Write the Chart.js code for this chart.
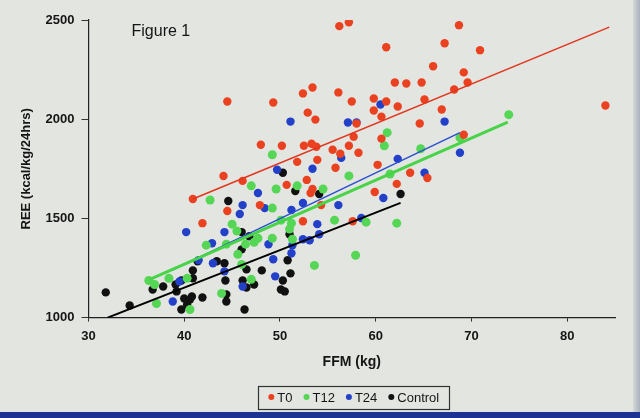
<!DOCTYPE html>
<html><head><meta charset="utf-8">
<script src="https://cdn.jsdelivr.net/npm/chart.js@4.4.1/dist/chart.umd.min.js"></script>
<style>
html,body{margin:0;padding:0;background:#e3e5e1;overflow:hidden}
#wrap{position:relative;width:640px;height:418px}
#bez{position:absolute;left:0;bottom:0;width:640px;height:6px;background:#1d3392}
#edge{position:absolute;right:0;top:0;width:7px;height:418px;background:linear-gradient(to right,#d4d8d8,#a9b2bd)}
canvas{position:absolute;left:0;top:0}
</style></head><body>
<div id="wrap"><canvas id="c" width="640" height="418"></canvas><div id="edge"></div><div id="bez"></div></div>
<script>
// ---- data ----
const seriesNames = ['T0', 'T12', 'T24', 'Control'];

const t0X = [40.9,41.9,44.5,44.1,46.1,44.5,48.0,47.9,49.3,50.2,50.7,51.8,52.4,53.4,52.9,53.7,52.5,53.3,53.8,52.8,53.4,53.2,52.4,53.9,54.3,55.8,55.5,56.1,56.2,57.2,57.5,57.7,57.2,58.2,58.0,57.6,59.8,61.1,59.8,60.6,60.6,60.2,59.9,61.1,62.0,63.2,64.8,62.3,65.1,64.6,62.2,63.6,65.4,66.0,66.9,67.2,68.7,70.9,69.2,69.6,68.2,69.2,84.0,56.3];
const t0Y = [1598,1476,2089,1714,1689,1537,1871,1567,2084,1866,1669,1785,2130,2160,2033,1998,1866,1876,1861,1694,1648,1628,1486,1795,1567,1755,1846,2135,2469,2489,2089,1912,1866,1831,1978,1486,2104,2089,2044,2013,1902,1770,1633,2363,2185,2180,2185,2064,2099,1978,1674,1730,1704,2267,2049,2383,2474,2348,2236,2185,2150,1922,2069,1826];

const t12X = [36.3,36.9,37.1,38.4,40.3,40.6,42.3,42.7,43.9,44.4,45.0,45.5,45.6,46.0,46.4,47.0,47.0,47.3,47.7,49.2,49.6,49.2,49.2,50.1,51.2,51.3,51.8,53.6,54.5,55.7,57.2,57.9,59.0,61.2,60.9,61.5,62.2,64.7,68.8,73.9,51.0];
const t12Y = [1187,1167,1071,1198,1198,1041,1365,1593,1122,1370,1471,1436,1319,1268,1370,1664,1193,1380,1400,1821,1648,1552,1400,1491,1476,1395,1664,1263,1648,1491,1714,1314,1481,1932,1866,1724,1476,1851,1907,2023,1446];

const t24X = [38.8,39.5,40.2,41.5,42.9,43.0,44.2,44.2,45.8,46.1,46.1,47.7,48.4,48.8,49.3,49.5,49.7,51.1,51.3,51.2,52.4,52.4,53.1,53.4,53.9,54.1,56.1,56.4,57.1,58.0,58.5,60.5,60.8,62.3,65.1,67.2,68.8,51.2];
const t24Y = [1081,1182,1431,1289,1375,1274,1431,1233,1522,1567,1157,1628,1552,1370,1294,1208,1745,1988,1365,1542,1578,1395,1390,1750,1471,1420,1567,1805,1983,1983,1502,2074,1603,1800,1730,1988,1831,1324];

const ctrlX = [31.8,34.3,36.7,37.8,39.1,39.2,39.7,39.7,40.0,40.6,40.8,40.9,40.9,41.4,41.9,43.4,44.2,44.3,44.4,44.4,44.6,46.0,46.8,46.0,46.1,46.5,46.5,46.3,47.3,48.1,50.3,51.0,50.8,51.1,50.3,50.1,51.6,54.1,62.6,40.3,50.5];
const ctrlY = [1127,1061,1142,1157,1167,1132,1187,1041,1096,1091,1106,1198,1238,1284,1101,1284,1274,1187,1117,1081,1588,1431,1410,1344,1187,1243,1152,1041,1167,1238,1730,1420,1289,1223,1187,1142,1638,1623,1623,1066,1132];

// regression lines (end points)
const fitT0X = [40.9, 84.4],   fitT0Y = [1598, 2464];
const fitT12X = [36.4, 73.8],  fitT12Y = [1193, 1985];
const fitT24X = [38.7, 68.8],  fitT24Y = [1238, 1932];
const fitCtrlX = [32.0, 62.6], fitCtrlY = [1000, 1578];

const xTicks = [30, 40, 50, 60, 70, 80];
const yTicks = [1000, 1500, 2000, 2500];
const xTitle = 'FFM (kg)';
const yTitle = 'REE (kcal/kg/24hrs)';
const figTitle = 'Figure 1';

// ---- build ----
const colors = ['#ea4220', '#55d655', '#2340c8', '#111111'];
const lineColors = ['#e2361e', '#48d448', '#2a50d0', '#000000'];
const lineWidths = [1.5, 3, 1.5, 2];
const ptsX = [t0X, t12X, t24X, ctrlX], ptsY = [t0Y, t12Y, t24Y, ctrlY];
const fitX = [fitT0X, fitT12X, fitT24X, fitCtrlX], fitY = [fitT0Y, fitT12Y, fitT24Y, fitCtrlY];
const zip = (xs, ys) => xs.map((x, i) => ({x, y: ys[i]}));

const datasets = [];
seriesNames.forEach((n, i) => {
  datasets.push({
    type: 'scatter', label: n, data: zip(ptsX[i], ptsY[i]),
    backgroundColor: colors[i], borderColor: colors[i], borderWidth: 0,
    pointRadius: i === 1 ? 4.5 : 4.2, pointHoverRadius: 4.2, isPoints: true, order: 1
  });
});
seriesNames.forEach((n, i) => {
  datasets.push({
    type: 'line', label: n + ' fit', data: zip(fitX[i], fitY[i]),
    borderColor: lineColors[i], borderWidth: lineWidths[i], pointRadius: 0,
    fill: false, tension: 0, order: 0
  });
});

const FONT = '"Liberation Sans", Arial, sans-serif';

const decor = {
  id: 'decor',
  afterDraw(chart) {
    const ctx = chart.ctx, ca = chart.chartArea;
    ctx.save();
    // figure title
    ctx.fillStyle = '#151515';
    ctx.font = '16px ' + FONT;
    ctx.textBaseline = 'middle';
    ctx.textAlign = 'left';
    ctx.fillText(figTitle, ca.left + 43, ca.top + 12);
    // legend
    const items = chart.data.datasets.filter(d => d.isPoints);
    ctx.font = '13px ' + FONT;
    const r = 3, gapDot = 3, gapItem = 11;
    const widths = items.map(d => 2 * r + gapDot + ctx.measureText(d.label).width);
    const total = widths.reduce((a, b) => a + b, 0) + gapItem * (items.length - 1);
    const cx = (ca.left + ca.right) / 2 + 2;
    const ly = chart.height - 21;
    ctx.strokeStyle = '#333';
    ctx.lineWidth = 1.2;
    ctx.strokeRect(Math.round(cx - total / 2 - 10) + 0.5, Math.round(ly - 11) + 0.5, Math.round(total + 20), 23);
    let x = cx - total / 2;
    items.forEach((d, i) => {
      ctx.fillStyle = d.backgroundColor;
      ctx.beginPath(); ctx.arc(x + r, ly, r, 0, Math.PI * 2); ctx.fill();
      ctx.fillStyle = '#151515';
      ctx.fillText(d.label, x + 2 * r + gapDot, ly + 1);
      x += widths[i] + gapItem;
    });
    ctx.restore();
  }
};

new Chart(document.getElementById('c'), {
  type: 'scatter',
  data: {datasets},
  plugins: [decor],
  options: {
    responsive: false, animation: false, devicePixelRatio: 1,
    layout: {padding: {left: 19, right: 25, top: 20, bottom: 47}},
    plugins: {legend: {display: false}, tooltip: {enabled: false}},
    scales: {
      x: {
        type: 'linear', min: 30, max: 85,
        afterBuildTicks: s => { s.ticks = xTicks.map(v => ({value: v})); },
        ticks: {color: '#151515', font: {family: FONT, size: 13, weight: 'bold'}, padding: 7, callback: v => String(v), maxRotation: 0},
        grid: {display: true, drawOnChartArea: false, drawTicks: true, tickLength: 4, color: '#333', lineWidth: 1},
        border: {display: true, color: '#222', width: 1.2},
        title: {display: true, text: xTitle, color: '#151515', font: {family: FONT, size: 14, weight: 'bold'}, padding: {top: 3, bottom: 0}}
      },
      y: {
        type: 'linear', min: 1000, max: 2500,
        afterBuildTicks: s => { s.ticks = yTicks.map(v => ({value: v})); },
        ticks: {color: '#151515', font: {family: FONT, size: 13, weight: 'bold'}, padding: 7, callback: v => String(v)},
        grid: {display: true, drawOnChartArea: false, drawTicks: true, tickLength: 7, color: '#333', lineWidth: 1},
        border: {display: true, color: '#222', width: 1.2},
        title: {display: true, text: yTitle, color: '#151515', font: {family: FONT, size: 13, weight: 'bold'}, padding: {top: 0, bottom: 4}}
      }
    }
  }
});
</script>
</body></html>
